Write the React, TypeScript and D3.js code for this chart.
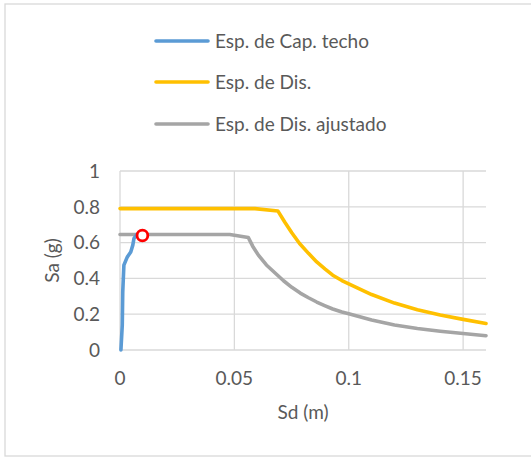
import React from "react";
import * as d3 from "d3";

const capSd = [0.0004, 0.001, 0.0012, 0.0017, 0.0032, 0.0047, 0.0056, 0.0061, 0.0073];
const capSa = [0, 0.14, 0.325, 0.474, 0.52, 0.548, 0.586, 0.623, 0.645];

const disSd = [0, 0.059, 0.069, 0.072, 0.0751, 0.0785, 0.0824, 0.086, 0.0897, 0.093, 0.097, 0.1, 0.11, 0.12, 0.13, 0.14, 0.15, 0.16];
const disSa = [0.79, 0.79, 0.777, 0.715, 0.655, 0.595, 0.54, 0.492, 0.452, 0.418, 0.388, 0.37, 0.31, 0.262, 0.225, 0.196, 0.171, 0.148];

const adjSd = [0, 0.048, 0.0561, 0.058, 0.0605, 0.064, 0.0678, 0.0715, 0.0751, 0.0788, 0.0824, 0.086, 0.0897, 0.093, 0.097, 0.1, 0.11, 0.12, 0.13, 0.14, 0.15, 0.16];
const adjSa = [0.645, 0.645, 0.628, 0.58, 0.53, 0.475, 0.43, 0.387, 0.35, 0.318, 0.292, 0.268, 0.247, 0.229, 0.212, 0.203, 0.168, 0.14, 0.12, 0.105, 0.092, 0.08];

const perfSd = [0.0098];
const perfSa = [0.64];

const xTicks = [0, 0.05, 0.1, 0.15];
const xTickLabels = ["0", "0.05", "0.1", "0.15"];
const yTicks = [0, 0.2, 0.4, 0.6, 0.8, 1];
const yTickLabels = ["0", "0.2", "0.4", "0.6", "0.8", "1"];

const seriesNames = ["Esp. de Cap. techo", "Esp. de Dis.", "Esp. de Dis. ajustado"];
const seriesColors = ["#5B9BD5", "#FFC000", "#A5A5A5"];

const W = 531;
const H = 457;
const FONT = "Lato, 'Open Sans', sans-serif";
const TEXT = "#595959";
const FS = 19;

export default function App() {
  const x = d3.scaleLinear().domain([0, 0.16]).range([120, 486]);
  const y = d3.scaleLinear().domain([0, 1]).range([350, 171]);
  const line = d3
    .line<[number, number]>()
    .x((d) => x(d[0]))
    .y((d) => y(d[1]));

  const series = [
    d3.zip(capSd, capSa) as [number, number][],
    d3.zip(disSd, disSa) as [number, number][],
    d3.zip(adjSd, adjSa) as [number, number][],
  ];
  const drawOrder = [1, 2, 0];

  return (
    <svg
      width={W}
      height={H}
      style={{ position: "absolute", left: 0, top: 0, background: "#fff" }}
      fontFamily={FONT}
    >
      <rect x={0} y={0} width={W} height={H} fill="#fff" />
      <rect x={5} y={4} width={540} height={452} fill="#fff" stroke="#d9d9d9" strokeWidth={1.3} />

      {/* gridlines */}
      {yTicks.map((t) => (
        <line key={"gy" + t} x1={x(0)} x2={x(0.16)} y1={y(t)} y2={y(t)} stroke="#d9d9d9" strokeWidth={1.3} />
      ))}
      {xTicks.map((t) => (
        <line key={"gx" + t} x1={x(t)} x2={x(t)} y1={y(0)} y2={y(1)} stroke="#d9d9d9" strokeWidth={1.3} />
      ))}

      {/* tick labels */}
      {yTicks.map((t, i) => (
        <text key={"ty" + t} x={100} y={y(t)} dy="0.36em" textAnchor="end" fontSize={FS} fill={TEXT}>
          {yTickLabels[i]}
        </text>
      ))}
      {xTicks.map((t, i) => (
        <text key={"tx" + t} x={x(t)} y={378} dy="0.36em" textAnchor="middle" fontSize={FS} fill={TEXT}>
          {xTickLabels[i]}
        </text>
      ))}

      {/* axis titles */}
      <text x={303} y={412} dy="0.36em" textAnchor="middle" fontSize={FS} fill={TEXT}>
        Sd (m)
      </text>
      <text
        transform={`translate(52,${(y(0) + y(1)) / 2}) rotate(-90)`}
        dy="0.36em"
        textAnchor="middle"
        fontSize={FS}
        fill={TEXT}
      >
        Sa (g)
      </text>

      {/* series */}
      {drawOrder.map((i) => (
        <path
          key={"s" + i}
          d={line(series[i]) || ""}
          fill="none"
          stroke={seriesColors[i]}
          strokeWidth={3.6}
          strokeLinejoin="round"
          strokeLinecap="round"
        />
      ))}

      {/* performance point */}
      {perfSd.map((sd, i) => (
        <circle key={"p" + i} cx={x(sd)} cy={y(perfSa[i])} r={5.4} fill="#fff" stroke="#FF0000" strokeWidth={2.8} />
      ))}

      {/* legend */}
      {seriesNames.map((name, i) => {
        const ly = [41, 82, 124][i];
        return (
          <g key={"l" + i}>
            <line x1={156} x2={208} y1={ly} y2={ly} stroke={seriesColors[i]} strokeWidth={3.6} strokeLinecap="round" />
            <text x={215} y={ly} dy="0.36em" fontSize={FS} fill={TEXT}>
              {name}
            </text>
          </g>
        );
      })}
    </svg>
  );
}
